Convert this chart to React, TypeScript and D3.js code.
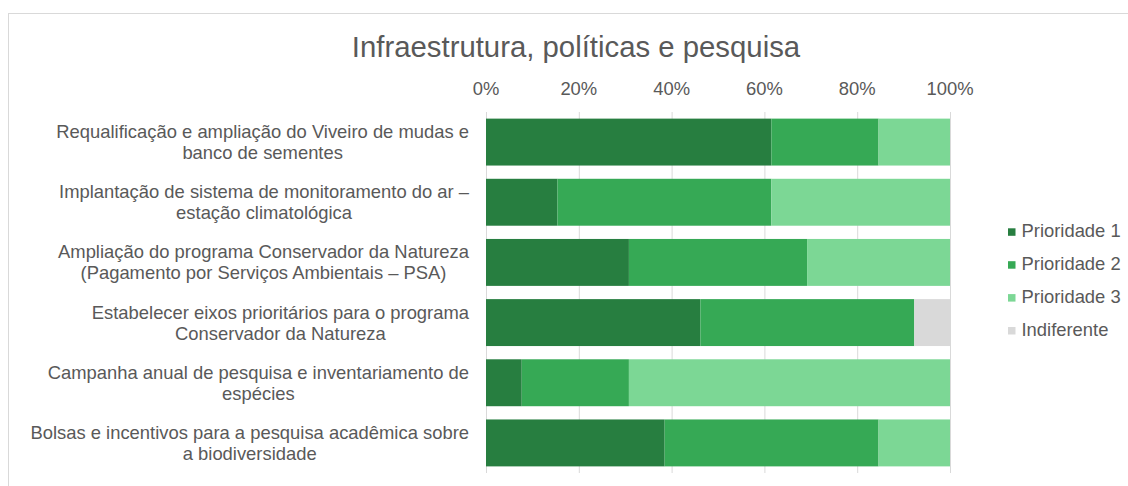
import React, { useEffect, useRef } from "react";
import * as d3 from "d3";

const categories: string[][] = [
  ["Requalificação e ampliação do Viveiro de mudas e", "banco de sementes"],
  ["Implantação de sistema de monitoramento do ar –", "estação climatológica"],
  ["Ampliação do programa Conservador da Natureza", "(Pagamento por Serviços Ambientais – PSA)"],
  ["Estabelecer eixos prioritários para o programa", "Conservador da Natureza"],
  ["Campanha anual de pesquisa e inventariamento de", "espécies"],
  ["Bolsas e incentivos para a pesquisa acadêmica sobre", "a biodiversidade"],
];

const seriesNames = ["Prioridade 1", "Prioridade 2", "Prioridade 3", "Indiferente"];
const prioridade1 = [61.5, 15.4, 30.8, 46.2, 7.7, 38.5];
const prioridade2 = [23.1, 46.1, 38.4, 46.1, 23.1, 46.1];
const prioridade3 = [15.4, 38.5, 30.8, 0, 69.2, 15.4];
const indiferente = [0, 0, 0, 7.7, 0, 0];
const tickValues = [0, 20, 40, 60, 80, 100];
const colors = ["#277E40", "#36A955", "#7CD795", "#D9D9D9"];
const title = "Infraestrutura, políticas e pesquisa";

export default function App() {
  const ref = useRef<SVGSVGElement>(null);
  useEffect(() => {
    const svg = d3.select(ref.current);
    svg.selectAll("*").remove();
    const font = "'Liberation Sans', Arial, sans-serif";
    const textColor = "#595959";
    const fs = 18.4;

    svg.append("rect").attr("x", 8.5).attr("y", 13.5).attr("width", 1200).attr("height", 600)
      .attr("fill", "#fff").attr("stroke", "#d9d9d9").attr("stroke-width", 1);

    const x = d3.scaleLinear().domain([0, 100]).range([486, 950]);
    const y = d3.scaleBand<number>().domain(d3.range(categories.length)).range([112, 473])
      .paddingInner(0.22).paddingOuter(0.11);

    svg.append("text").attr("x", 576).attr("y", 57.3).attr("text-anchor", "middle")
      .attr("font-family", font).attr("font-size", 29.33).attr("fill", textColor).text(title);

    // gridlines
    svg.append("g").selectAll("line").data(tickValues).join("line")
      .attr("x1", (d) => x(d) + 0.5).attr("x2", (d) => x(d) + 0.5)
      .attr("y1", 112).attr("y2", 473).attr("stroke", "#d9d9d9").attr("stroke-width", 1);

    svg.append("g").selectAll("text").data(tickValues).join("text")
      .attr("x", (d) => x(d)).attr("y", 95).attr("text-anchor", "middle")
      .attr("font-family", font).attr("font-size", fs).attr("fill", textColor)
      .text((d) => `${d}%`);

    const rows = categories.map((c, i) => ({
      i,
      values: [prioridade1[i], prioridade2[i], prioridade3[i], indiferente[i]],
    }));
    const stack = d3.stack<any, number>().keys([0, 1, 2, 3] as any)
      .value((d: any, k: any) => d.values[k]);
    const stacked = stack(rows as any);

    svg.append("g").selectAll("g").data(stacked).join("g")
      .attr("fill", (_d, k) => colors[k])
      .selectAll("rect").data((d) => d).join("rect")
      .attr("x", (d) => x(d[0]))
      .attr("width", (d) => Math.max(0, x(d[1]) - x(d[0])))
      .attr("y", (d: any) => y(d.data.i)!)
      .attr("height", y.bandwidth());

    // category labels
    const labelRight = 469;
    const lineH = 21;
    categories.forEach((lines, i) => {
      const g = svg.append("g");
      const cy = y(i)! + y.bandwidth() / 2;
      const texts = lines.map((l, j) =>
        g.append("text").attr("font-family", font).attr("font-size", fs).attr("fill", textColor)
          .attr("text-anchor", "middle")
          .attr("y", cy - 4 + j * lineH)
          .text(l)
      );
      const maxW = d3.max(texts, (t) => (t.node() as SVGTextElement).getComputedTextLength()) || 0;
      texts.forEach((t) => t.attr("x", labelRight - maxW / 2));
    });

    // legend
    const legend = svg.append("g");
    seriesNames.forEach((name, k) => {
      const base = 236.8 + k * 32.9;
      legend.append("rect").attr("x", 1008).attr("y", base - 8.5).attr("width", 7.5).attr("height", 7.5)
        .attr("fill", colors[k]);
      legend.append("text").attr("x", 1021.5).attr("y", base).attr("font-family", font)
        .attr("font-size", fs).attr("fill", textColor).text(name);
    });
  }, []);
  return (
    <svg ref={ref} width={1128} height={486}
      style={{ position: "absolute", left: 0, top: 0, background: "#fff" }} />
  );
}
